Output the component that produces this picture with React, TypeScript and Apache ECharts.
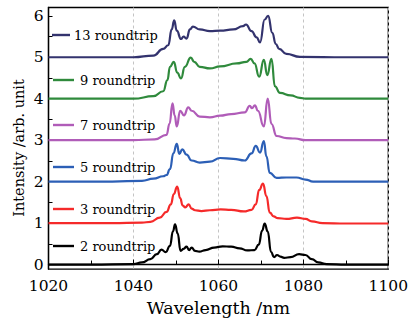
import React, { useEffect, useRef } from "react";
import * as echarts from "echarts";

const seriesNames = ["13 roundtrip", "9 roundtrip", "7 roundtrip", "5 roundtrip", "3 roundtrip", "2 roundtrip"];
const seriesColors = ["#33336e", "#2f8a3c", "#b05cb8", "#2c5fb6", "#f52a2a", "#000000"];

const x13 = [1020, 1040, 1044.7, 1047, 1048.2, 1049, 1049.6, 1050.2, 1051.2, 1051.8, 1052.5, 1053.3, 1054, 1055.6, 1058, 1060.4, 1063.5, 1065.8, 1066.5, 1067.8, 1069, 1069.8, 1070.9, 1071.7, 1072.7, 1073.5, 1074.3, 1076, 1079.2, 1090, 1100];
const y13 = [5, 5, 5.04, 5.2, 5.29, 5.67, 5.89, 5.64, 5.44, 5.5, 5.45, 5.67, 5.74, 5.67, 5.63, 5.64, 5.67, 5.75, 5.79, 5.63, 5.48, 5.36, 5.91, 6.0, 5.59, 5.32, 5.2, 5.08, 5.01, 5.0, 5.0];

const x9 = [1020, 1040, 1044.7, 1047, 1048, 1048.6, 1049.5, 1050.3, 1051.2, 1052.1, 1053.5, 1054.3, 1055.6, 1058, 1060.4, 1064.3, 1066.6, 1067.6, 1068.5, 1069.6, 1070.7, 1071.5, 1072.5, 1073.3, 1074.5, 1077, 1079.2, 1080.5, 1090, 1100];
const y9 = [4.0, 4.0, 4.06, 4.18, 4.45, 4.77, 4.89, 4.63, 4.49, 4.77, 4.99, 4.89, 4.77, 4.73, 4.78, 4.85, 4.89, 4.96, 4.85, 4.53, 4.94, 4.57, 4.96, 4.3, 4.14, 4.08, 4.02, 4.0, 4.0, 4.0];

const x7 = [1020, 1040, 1045, 1047.8, 1048.5, 1049.2, 1049.7, 1050.2, 1051, 1051.9, 1052.9, 1053.7, 1055.6, 1058, 1060.4, 1063, 1066.2, 1067.4, 1067.9, 1068.6, 1069.3, 1070.7, 1071.6, 1072.5, 1073.7, 1076, 1078, 1080.5, 1090, 1100];
const y7 = [3, 3, 3.02, 3.13, 3.4, 3.89, 3.6, 3.33, 3.71, 3.6, 3.79, 3.71, 3.57, 3.55, 3.59, 3.63, 3.67, 3.83, 3.77, 3.84, 3.71, 3.33, 4.0, 3.39, 3.1, 3.05, 3.04, 3.0, 3.0, 3.0];

const x5 = [1020, 1035, 1042, 1044.7, 1047, 1047.8, 1048.6, 1049.4, 1050.2, 1050.8, 1051.5, 1052.5, 1053.7, 1055.6, 1058, 1060.4, 1063.5, 1066.2, 1067.8, 1068.8, 1069.8, 1070.7, 1071.3, 1072.1, 1073.7, 1076, 1078.4, 1080.5, 1082.3, 1090, 1100];
const y5 = [2, 2, 2.02, 2.07, 2.13, 2.16, 2.3, 2.68, 2.91, 2.67, 2.78, 2.65, 2.51, 2.46, 2.48, 2.57, 2.55, 2.51, 2.68, 2.86, 2.7, 2.98, 2.61, 2.21, 2.09, 2.1, 2.1, 2.05, 2.0, 2.0, 2.0];

const x3 = [1020, 1035, 1042, 1044, 1046.2, 1047.8, 1048.8, 1049.5, 1050.3, 1051, 1051.6, 1052.2, 1053, 1053.7, 1054.5, 1056, 1058, 1060.5, 1063, 1066, 1067.8, 1068.8, 1069.6, 1070.5, 1071.3, 1072.1, 1073, 1074, 1076, 1078.5, 1080.5, 1082, 1084.5, 1090, 1100];
const y3 = [1, 1, 1.01, 1.03, 1.13, 1.27, 1.45, 1.7, 1.88, 1.6, 1.42, 1.38, 1.45, 1.35, 1.31, 1.29, 1.31, 1.33, 1.32, 1.28, 1.32, 1.45, 1.8, 1.95, 1.65, 1.25, 1.16, 1.12, 1.1, 1.13, 1.1, 1.04, 1.0, 0.99, 0.99];

const x2 = [1020, 1030, 1040, 1042, 1044, 1045.5, 1046.6, 1047.6, 1048.6, 1049.3, 1049.8, 1050.4, 1051.1, 1051.8, 1052.5, 1053.1, 1053.7, 1054.5, 1055.5, 1057, 1059, 1061, 1063, 1065, 1066.8, 1068.5, 1069.5, 1070.3, 1070.9, 1071.6, 1072.4, 1073.1, 1073.8, 1074.6, 1075.5, 1077, 1079, 1080.5, 1082, 1083.5, 1085.5, 1090, 1100];
const y2 = [0, 0, 0.01, 0.05, 0.13, 0.25, 0.36, 0.3, 0.45, 0.8, 0.97, 0.75, 0.33, 0.38, 0.43, 0.35, 0.41, 0.33, 0.31, 0.35, 0.41, 0.44, 0.43, 0.39, 0.34, 0.35, 0.48, 0.82, 0.99, 0.8, 0.3, 0.18, 0.23, 0.19, 0.16, 0.18, 0.25, 0.23, 0.13, 0.05, 0.01, 0, 0];

const seriesX = [x13, x9, x7, x5, x3, x2];
const seriesY = [y13, y9, y7, y5, y3, y2];

const yTickLabels = [0, 1, 2, 3, 4, 5, 6];
const yTickMarks = [0, 0.5, 1, 1.5, 2, 2.5, 3, 3.5, 4, 4.5, 5, 5.5, 6];

const legendTops = [27, 72, 117, 159, 201, 238];

const yTitle = "Intensity /arb. unit";
const xTitle = "Wavelength /nm";

const FONT = "DejaVu Serif";

export default function App() {
  const ref = useRef<HTMLDivElement>(null);
  useEffect(() => {
    if (!ref.current) return;
    const chart = echarts.init(ref.current, null, { renderer: "svg" });
    const series = seriesNames.map((name, i) => ({
      name,
      type: "line",
      data: seriesX[i].map((x, j) => [x, seriesY[i][j]]),
      symbol: "none",
      smooth: 0.5,
      smoothMonotone: "x",
      lineStyle: { color: seriesColors[i], width: 2.2 },
      itemStyle: { color: seriesColors[i] },
      z: 3,
    }));
    const legends = seriesNames.map((name, i) => ({
      data: [{ name, icon: "rect" }],
      left: i === 0 ? 52 : 53,
      top: legendTops[i],
      padding: 0,
      itemWidth: i === 0 ? 18 : 21,
      itemHeight: 2.4,
      itemGap: 0,
      textStyle: { fontFamily: FONT, fontSize: 13, lineHeight: 16, color: "#000", padding: [0, 0, 0, i === 0 ? -1 : 1] },
      selectedMode: false,
    }));
    chart.setOption({
      animation: false,
      backgroundColor: "#fff",
      grid: { left: 48.5, right: 28.7, top: 7.5, bottom: 46, show: true, borderColor: "#000", borderWidth: 1.3, backgroundColor: "transparent" },
      legend: legends,
      graphic: [
        {
          type: "text",
          x: 19,
          y: 148,
          rotation: Math.PI / 2,
          style: { text: yTitle, fontFamily: FONT, fontSize: 14.5, fill: "#000", align: "center", verticalAlign: "middle" },
        },
      ],
      xAxis: {
        type: "value",
        min: 1020,
        max: 1100,
        interval: 20,
        name: xTitle,
        nameLocation: "middle",
        nameGap: 28,
        nameTextStyle: { fontFamily: FONT, fontSize: 17.5, color: "#000" },
        axisLine: { show: true, lineStyle: { color: "#000", width: 1.3 } },
        axisTick: { show: true, inside: true, length: 5, lineStyle: { color: "#000", width: 1 } },
        minorTick: { show: true, splitNumber: 2, length: 4, lineStyle: { color: "#000", width: 1 } },
        axisLabel: { fontFamily: FONT, fontSize: 15.5, color: "#000", margin: 9, formatter: (v: number) => String(v) },
        splitLine: { show: true, lineStyle: { color: "#c4c4c4", type: [3, 3], width: 1 } },
      },
      yAxis: {
        type: "value",
        min: -0.11,
        max: 6.2,
        axisLine: { show: true, lineStyle: { color: "#000", width: 1.3 } },
        axisTick: { show: true, inside: true, length: 4, customValues: yTickMarks, lineStyle: { color: "#000", width: 1 } },
        axisLabel: { fontFamily: FONT, fontSize: 15.5, color: "#000", margin: 5, customValues: yTickLabels },
        splitLine: { show: false },
      },
      series,
    });
    return () => chart.dispose();
  }, []);
  return <div ref={ref} style={{ position: "fixed", left: 0, top: 0, width: 417, height: 322 }} />;
}
